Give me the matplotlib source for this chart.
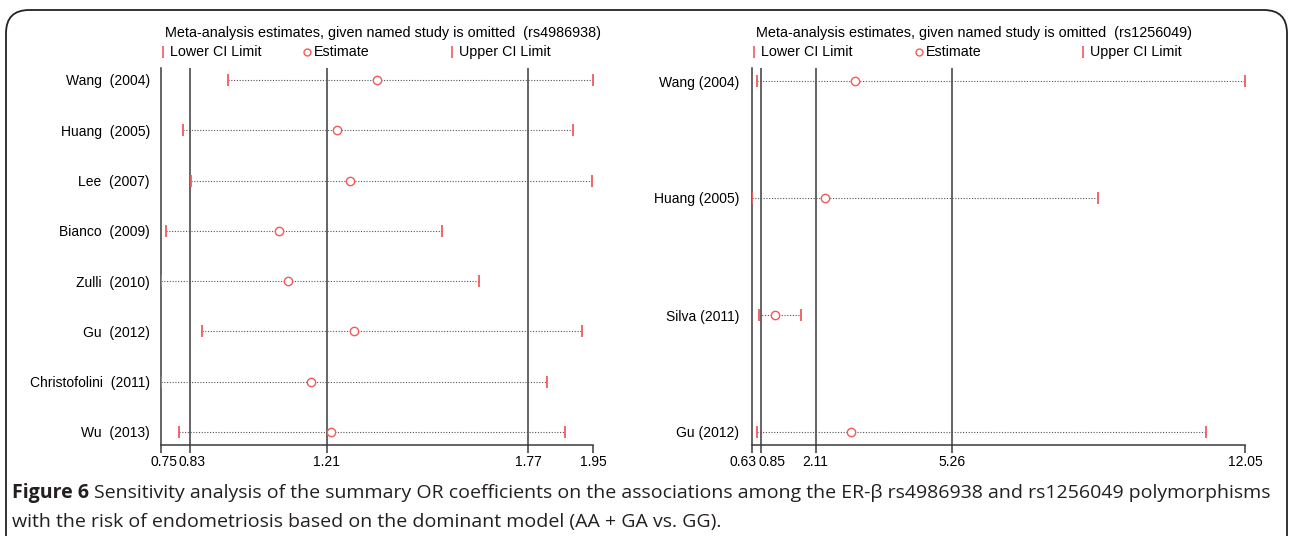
import matplotlib
matplotlib.use('Agg')
import matplotlib.pyplot as plt
from matplotlib.lines import Line2D
from matplotlib.patches import FancyBboxPatch
from matplotlib.transforms import ScaledTranslation

plt.rcParams['font.family'] = ['Liberation Sans', 'DejaVu Sans']

# rs4986938
studies_a = ['Wang  (2004)', 'Huang  (2005)', 'Lee  (2007)', 'Bianco  (2009)', 'Zulli  (2010)',
             'Gu  (2012)', 'Christofolini  (2011)', 'Wu  (2013)']
lower_a = [0.937, 0.81, 0.834, 0.763, 0.75, 0.864, 0.75, 0.80]
est_a = [1.35, 1.239, 1.274, 1.079, 1.103, 1.286, 1.166, 1.222]
upper_a = [1.95, 1.895, 1.947, 1.53, 1.633, 1.919, 1.822, 1.872]
refs_a = [0.83, 1.21, 1.77]
ticks_a = [0.75, 0.83, 1.21, 1.77, 1.95]

# rs1256049
studies_b = ['Wang (2004)', 'Huang (2005)', 'Silva (2011)', 'Gu (2012)']
lower_b = [0.746, 0.63, 0.79, 0.76]
est_b = [3.02, 2.327, 1.17, 2.935]
upper_b = [12.05, 8.64, 1.77, 11.15]
refs_b = [0.85, 2.11, 5.26]
ticks_b = [0.63, 0.85, 2.11, 5.26, 12.05]

W, H = 1289, 536
RED = '#f25a5a'
LINE = '#3a3a3a'

fig = plt.figure(figsize=(W / 100, H / 100), dpi=100)


def fx(px):
    return px / W


def fy(py):
    return 1 - py / H


def panel(rect, names, lo, est, hi, refs, ticks, ylim, title, legend_x, label_pad, nudge):
    ax = fig.add_axes(rect)
    ypos = list(range(len(names)))
    for r in refs:
        ax.axvline(r, color=LINE, lw=1.1, zorder=1)
    for y, l, e, u in zip(ypos, lo, est, hi):
        ax.plot([l, u], [y, y], ls=(0, (1, 1.5)), color='#555555', lw=0.8, zorder=2)
    ax.plot(lo, ypos, ls='none', marker='|', ms=9, mew=1.3, color=RED, zorder=3)
    ax.plot(hi, ypos, ls='none', marker='|', ms=9, mew=1.3, color=RED, zorder=3)
    ax.plot(est, ypos, ls='none', marker='o', ms=6, mew=1.0, mfc='white', mec=RED, zorder=4)
    ax.set_xlim(ticks[0], ticks[-1])
    ax.set_ylim(*ylim)
    ax.set_yticks(ypos)
    ax.set_yticklabels(names, fontsize=10)
    ax.tick_params(axis='y', length=0, pad=label_pad)
    ax.set_xticks(ticks)
    ax.set_xticklabels([f'{t:.2f}' for t in ticks], fontsize=10)
    ax.tick_params(axis='x', length=6, width=1.1, color=LINE, pad=1)
    # first two tick labels sit close together, push them apart a bit
    for lab, dx in zip(ax.get_xticklabels()[:2], nudge):
        lab.set_transform(lab.get_transform() + ScaledTranslation(dx / 100, 0, fig.dpi_scale_trans))
    for s in ['top', 'right']:
        ax.spines[s].set_visible(False)
    for s in ['left', 'bottom']:
        ax.spines[s].set_color(LINE)
        ax.spines[s].set_linewidth(1.1)
    ax.patch.set_alpha(0)

    # title and legend row above the plot
    fig.text(fx(legend_x[0] + 2), fy(33), title, fontsize=10.35, va='center', ha='left')
    items = [('|', 'Lower CI Limit', legend_x[0]), ('o', 'Estimate', legend_x[1]),
             ('|', 'Upper CI Limit', legend_x[2])]
    for mk, txt, x in items:
        if mk == 'o':
            m = Line2D([fx(x)], [fy(52)], ls='none', marker='o', ms=5, mew=1.0,
                       mfc='white', mec=RED, transform=fig.transFigure)
        else:
            m = Line2D([fx(x)], [fy(52)], ls='none', marker='|', ms=8, mew=1.2,
                       color=RED, transform=fig.transFigure)
        fig.add_artist(m)
        fig.text(fx(x + 7), fy(52), txt, fontsize=10.3, va='center', ha='left')
    return ax


top, bottom = 68, 445
rect_a = [fx(161), fy(bottom), fx(593 - 161), (bottom - top) / H]
step_a = (432 - 80) / 7
panel(rect_a, studies_a, lower_a, est_a, upper_a, refs_a, ticks_a,
      ((bottom - 80) / step_a, (top - 80) / step_a),
      'Meta-analysis estimates, given named study is omitted  (rs4986938)',
      (163, 307, 452), 8, (3, 2))

rect_b = [fx(751.7), fy(bottom), fx(1245 - 751.7), (bottom - top) / H]
step_b = (432 - 81) / 3
panel(rect_b, studies_b, lower_b, est_b, upper_b, refs_b, ticks_b,
      ((bottom - 81) / step_b, (top - 81) / step_b),
      'Meta-analysis estimates, given named study is omitted  (rs1256049)',
      (754, 919, 1083), 9, (-9, 11))

# rounded frame around the figure
frame = FancyBboxPatch((fx(6), fy(560)), fx(1281), (560 - 10) / H,
                       boxstyle='round,pad=0,rounding_size=0.018',
                       transform=fig.transFigure, fill=False, ec='#222222', lw=1.3,
                       mutation_aspect=W / H)
fig.add_artist(frame)

# caption
cap_font = ['Open Sans', 'DejaVu Sans']
cap_size = 14.0
cap_color = '#231f20'
fig.canvas.draw()
renderer = fig.canvas.get_renderer()
t1 = fig.text(fx(12), fy(493), 'Figure 6', fontsize=cap_size, fontweight='bold',
              family=cap_font, va='center', ha='left', color=cap_color)
bb = t1.get_window_extent(renderer)
t2 = fig.text(bb.x1 / W + fx(5), fy(493),
              'Sensitivity analysis of the summary OR coefficients on the associations among the '
              'ER-β rs4986938 and rs1256049 polymorphisms',
              fontsize=cap_size, family=cap_font, va='center', ha='left', color=cap_color)
fig.text(fx(12), fy(522),
         'with the risk of endometriosis based on the dominant model (AA + GA vs. GG).',
         fontsize=cap_size, family=cap_font, va='center', ha='left', color=cap_color)

fig.savefig('out.png', dpi=100)
